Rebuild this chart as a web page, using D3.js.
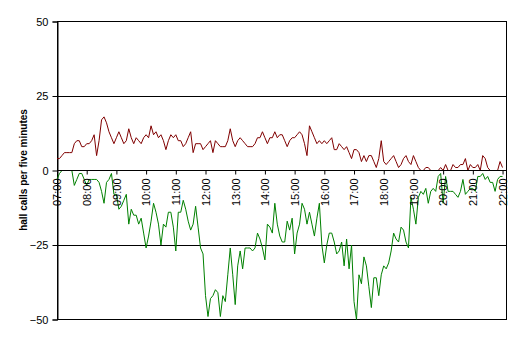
<!DOCTYPE html>
<html>
<head>
<meta charset="utf-8">
<script src="https://cdn.jsdelivr.net/npm/d3@7"></script>
<style>
  html, body { margin: 0; padding: 0; background: #fff; }
  svg { display: block; }
  text { font-family: Arial, "Liberation Sans", sans-serif; }
</style>
</head>
<body>
<svg id="chart" width="517" height="340"></svg>
<script>
// Five-minute intervals from 07:00 to 22:00 (181 samples)
const startHour = 7;
const stepMinutes = 5;

// Hall calls going up (positive)
const upCalls = [
  4, 4, 5, 6, 6, 6, 6, 9, 10, 10, 8, 8,
  9, 9, 10, 12, 5, 10, 17, 18, 16, 13, 11, 9,
  11, 13, 11, 9, 10, 14, 11, 9, 11, 10, 9, 11,
  12, 11, 15, 12, 13, 11, 12, 10, 7, 10, 12, 11,
  12, 10, 10, 8, 9, 11, 13, 6, 9, 9, 9, 7,
  8, 9, 10, 6, 10, 9, 8, 8, 8, 10, 14, 10,
  8, 10, 11, 10, 9, 8, 8, 8, 9, 11, 11, 13,
  11, 9, 11, 11, 13, 11, 12, 12, 10, 8, 10, 11,
  11, 12, 13, 12, 9, 5, 15, 13, 11, 9, 10, 9,
  10, 9, 10, 11, 7, 7, 9, 8, 7, 8, 6, 4,
  7, 7, 6, 3, 5, 3, 5, 5, 3, 1, 4, 10,
  3, 2, 3, 4, 5, 3, 1, 2, 4, 5, 3, 2,
  5, 3, 1, 0, 0, 1, 1, 0, 0, 0, 0, 1,
  0, 2, 0, 0, 2, 1, 1, 2, 2, 4, 0, 2,
  1, 1, 2, 0, 5, 4, 1, 0, 0, 0, 0, 3,
  1
];

// Hall calls going down (negative)
const downCalls = [
  -3, -1, 0, 0, 0, 0, 0, -5, -3, -1, -1, -3,
  -5, -3, -3, -3, -3, -4, -7, -11, -4, -3, -1, -8,
  -8, -13, -12, -10, -8, -18, -13, -15, -15, -18, -16, -21,
  -26, -22, -17, -11, -14, -18, -25, -18, -19, -14, -14, -19,
  -27, -14, -14, -10, -13, -17, -20, -18, -12, -19, -26, -28,
  -42, -49, -43, -42, -40, -41, -49, -42, -44, -35, -26, -35,
  -45, -32, -27, -33, -26, -26, -26, -27, -26, -21, -23, -26,
  -30, -18, -19, -21, -11, -18, -22, -24, -24, -17, -20, -16,
  -28, -21, -18, -11, -13, -18, -14, -18, -22, -16, -11, -25,
  -31, -25, -21, -21, -24, -28, -27, -24, -32, -23, -33, -25,
  -44, -50, -35, -38, -29, -32, -39, -46, -36, -36, -42, -35,
  -32, -33, -31, -27, -21, -23, -24, -19, -20, -24, -26, -9,
  -13, -18, -9, -7, -8, -6, -11, -7, -6, -7, -2, -1,
  -11, -2, -7, -7, -7, -8, -9, -7, -3, -8, -7, -6,
  -6, -7, -2, -2, -1, -3, -2, -4, -4, -7, -3, -2,
  -2
];

const yTicks = [-50, -25, 0, 25, 50];
const hourTicks = d3.range(7, 23);
const yTitle = "hall calls per five minutes";

const svg = d3.select("#chart");
const plotLeft = 57, plotRight = 506, plotTop = 21, plotBottom = 319;

// x in minutes after 07:00
const x = d3.scaleLinear().domain([0, 907]).range([plotLeft, plotRight]);
const y = d3.scaleLinear().domain([-50, 50]).range([plotBottom + 0.5, plotTop + 0.5]);

const up = upCalls.map((v, i) => ({ t: i * stepMinutes, v }));
const down = downCalls.map((v, i) => ({ t: i * stepMinutes, v }));

// Plot frame
svg.append("rect")
  .attr("x", plotLeft + 0.5).attr("y", plotTop + 0.5)
  .attr("width", plotRight - plotLeft).attr("height", plotBottom - plotTop)
  .attr("fill", "none").attr("stroke", "#000").attr("stroke-width", 1);

// Horizontal gridlines
svg.append("g").selectAll("line")
  .data(yTicks.filter(d => d !== 0))
  .join("line")
  .attr("x1", plotLeft).attr("x2", plotRight)
  .attr("y1", d => Math.round(y(d) - 0.5) + 0.5)
  .attr("y2", d => Math.round(y(d) - 0.5) + 0.5)
  .attr("stroke", "#000");

// Value axis
const yAxis = svg.append("g")
  .attr("transform", `translate(${plotLeft + 0.5},0)`)
  .call(d3.axisLeft(y).tickValues(yTicks).tickSize(5).tickPadding(4).tickFormat(d3.format("d")));
yAxis.select(".domain").attr("stroke", "#000");
yAxis.selectAll(".tick line").attr("stroke", "#000");
yAxis.selectAll("text").attr("font-size", 11).attr("fill", "#000")
  .attr("font-family", "Arial, 'Liberation Sans', sans-serif");

// Series lines
const line = d3.line().x(d => x(d.t)).y(d => y(d.v));
svg.append("path").datum(down)
  .attr("d", line).attr("fill", "none").attr("stroke", "#008000").attr("stroke-width", 1);
svg.append("path").datum(up)
  .attr("d", line).attr("fill", "none").attr("stroke", "#800000").attr("stroke-width", 1);

// Category (time) axis along zero
const xAxis = svg.append("g")
  .attr("transform", `translate(0,${Math.round(y(0) - 0.5) + 0.5})`)
  .call(d3.axisBottom(x)
    .tickValues(hourTicks.map(h => (h - startHour) * 60))
    .tickSize(4)
    .tickFormat(m => String(startHour + m / 60).padStart(2, "0") + ":00"));
xAxis.select(".domain").attr("d", `M${plotLeft},0H${plotRight}`).attr("stroke", "#000");
xAxis.selectAll(".tick line").attr("stroke", "#000");
xAxis.selectAll("text")
  .attr("font-size", 11).attr("fill", "#000")
  .attr("font-family", "Arial, 'Liberation Sans', sans-serif")
  .attr("transform", "rotate(-90)")
  .attr("text-anchor", "end")
  .attr("x", -8).attr("y", 0).attr("dy", "0.35em");

// Value axis title
svg.append("text")
  .attr("transform", `translate(23,${(plotTop + plotBottom) / 2}) rotate(-90)`)
  .attr("text-anchor", "middle")
  .attr("dy", "0.35em")
  .attr("font-size", 10).attr("font-weight", "bold").attr("fill", "#000")
  .text(yTitle);
</script>
</body>
</html>
